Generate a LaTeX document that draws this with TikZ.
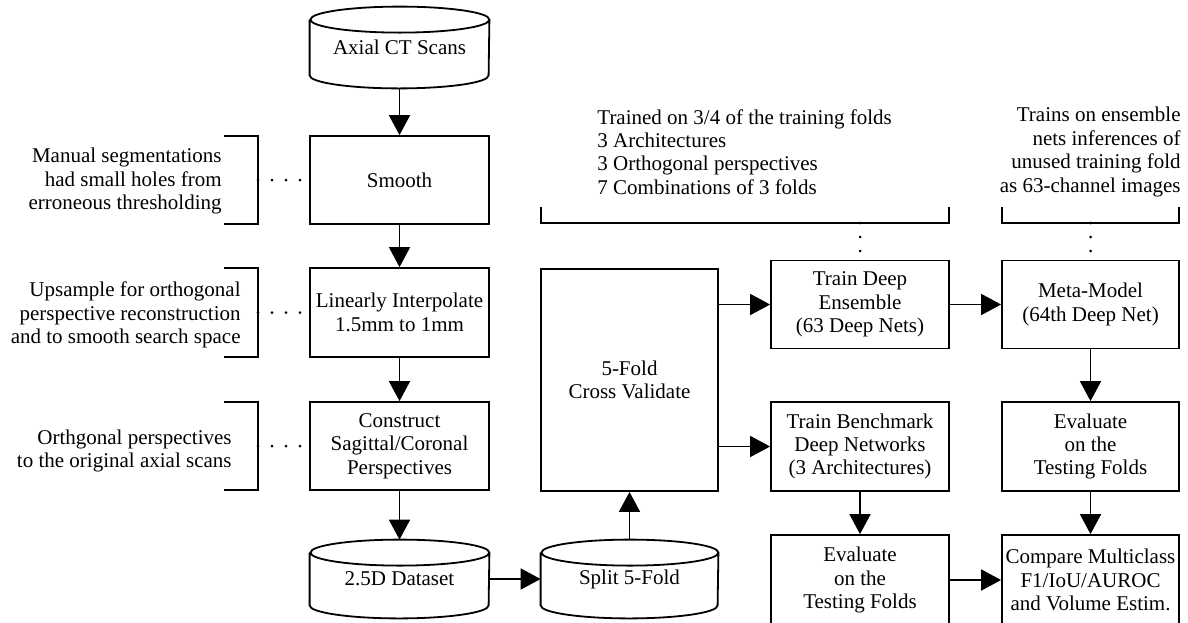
\documentclass[tikz,border=0pt]{standalone}
\usepackage{fontspec}
\setmainfont{Liberation Serif}
\usetikzlibrary{arrows.meta}
\newcommand{\cylshape}[2]{%
  \draw[line width=0.9pt] ([yshift=-6.5pt]#1.north west) -- ([yshift=6.5pt]#1.south west)
    arc[start angle=180, end angle=360, x radius=#2, y radius=6.5pt]
    -- ([yshift=-6.5pt]#1.north east)
    arc[start angle=0, end angle=360, x radius=#2, y radius=6.5pt];}
\begin{document}
\begin{tikzpicture}[x=0.5pt, y=-0.5pt,
  font=\fontsize{10.5}{11.7}\selectfont,
  box/.style={draw, line width=0.9pt, align=center, inner sep=0pt,
    minimum width=89.5pt, minimum height=44pt},
  cylnode/.style={align=center, inner sep=0pt, minimum width=89.5pt},
  note/.style={inner sep=0pt},
  arr/.style={line width=0.9pt, -{Triangle[length=10pt, width=10.5pt]}},
  bline/.style={line width=0.9pt},
  dotline/.style={line width=1.5pt, line cap=round, dash pattern=on 0pt off 7pt}]
\useasboundingbox (0,0) rectangle (1188,622);
\clip (0,0) rectangle (1188,622);
\fill[white] (0,0) rectangle (1188,622);

% left column
\node[cylnode, minimum height=40.5pt] (axial) at (399.5,47.5) {Axial CT Scans};
\cylshape{axial}{44.75pt}
\node[box] (smooth) at (399.5,180) {Smooth};
\node[box, minimum height=44.5pt] (linear) at (399.5,312.5) {Linearly Interpolate\\1.5mm to 1mm};
\node[box] (construct) at (399.5,446) {Construct\\Sagittal/Coronal\\Perspectives};
\node[cylnode, minimum height=39pt] (ds) at (399.5,579) {2.5D Dataset};
\cylshape{ds}{44.75pt}

% middle
\node[cylnode, minimum width=88.5pt, minimum height=39pt] (split) at (629.5,579) {Split 5-Fold};
\cylshape{split}{44.25pt}
\node[box, minimum width=88.5pt, minimum height=111pt] (cv) at (629.5,380) {5-Fold\\Cross Validate};

% right columns
\node[box, minimum width=89pt] (tde) at (860,304.5) {Train Deep\\Ensemble\\(63 Deep Nets)};
\node[box, minimum width=88.5pt] (meta) at (1090.5,304.5) {Meta-Model\\(64th Deep Net)};
\node[box, minimum width=89pt, minimum height=44.5pt] (tb) at (860,446.5) {Train Benchmark\\Deep Networks\\(3 Architectures)};
\node[box, minimum width=88.5pt, minimum height=44.5pt] (evr) at (1090.5,446.5) {Evaluate\\on the\\Testing Folds};
\node[box, minimum width=89pt, minimum height=45pt] (evl) at (860,580) {Evaluate\\on the\\Testing Folds};
\node[box, minimum width=88.5pt, minimum height=45pt] (cmp) at (1090.5,580) {Compare Multiclass\\F1/IoU/AUROC\\and Volume Estim.};

% arrows
\draw[arr] (axial.south) -- (smooth.north);
\draw[arr] (smooth.south) -- (linear.north);
\draw[arr] (linear.south) -- (construct.north);
\draw[arr] (construct.south) -- (ds.north);
\draw[arr] (ds.east) -- (split.west);
\draw[arr] (split.north) -- (cv.south);
\draw[arr] (cv.east |- tde.west) -- (tde.west);
\draw[arr] (cv.east |- tb.west) -- (tb.west);
\draw[arr] (tde.east) -- (meta.west);
\draw[arr] (meta.south) -- (evr.north);
\draw[arr] (tb.south) -- (evl.north);
\draw[arr] (evr.south) -- (cmp.north);
\draw[arr] (evl.east) -- (cmp.west);

% left notes
\node[note, anchor=east, align=right] (n1) at (222,181) {Manual segmentations\\had small holes from\\erroneous thresholding};
\node[note, anchor=east, align=right] (n2) at (241,315) {Upsample for orthogonal\\perspective reconstruction\\and to smooth search space};
\node[note, anchor=east, align=right] (n3) at (232,451) {Orthgonal perspectives\\to the original axial scans};
\draw[bline] (224,136) -- (258,136) -- (258,224) -- (224,224);
\draw[bline] (224,268) -- (258,268) -- (258,357) -- (224,357);
\draw[bline] (224,402) -- (258,402) -- (258,490) -- (224,490);
\coordinate (b1) at (258,180);
\coordinate (b2) at (258,312.5);
\coordinate (b3) at (258,446);
\draw[dotline] (b1) -- (smooth.west);
\draw[dotline] (b2) -- (linear.west);
\draw[dotline] (b3) -- (construct.west);

% top notes
\node[note, anchor=west, align=left] (t1) at (597,152) {Trained on 3/4 of the training folds\\3 Architectures\\3 Orthogonal perspectives\\7 Combinations of 3 folds};
\node[note, anchor=east, align=right] (t2) at (1181,152) {Trains on ensemble\\nets inferences of\\unused training fold\\as 63-channel images};
\draw[bline] (541,207) -- (541,223) -- (949,223) -- (949,207);
\draw[bline] (1002,207) -- (1002,223) -- (1179,223) -- (1179,207);
\coordinate (b4) at (860,223);
\coordinate (b5) at (1090.5,223);
\draw[dotline] (b4) -- (tde.north);
\draw[dotline] (b5) -- (meta.north);
\end{tikzpicture}
\end{document}
